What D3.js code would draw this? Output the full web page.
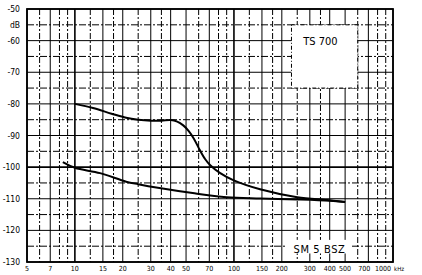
<!DOCTYPE html>
<html>
<head>
<meta charset="utf-8">
<script src="https://cdn.jsdelivr.net/npm/d3@7"></script>
<style>
  body { margin: 0; background: #fff; }
  text { font-family: "DejaVu Sans Condensed", "Liberation Sans Narrow", Arial, sans-serif; fill: #000; }
</style>
</head>
<body>
<svg id="chart" width="422" height="275"></svg>
<script>
// values
var xLabels = [5, 7, 10, 15, 20, 30, 40, 50, 70, 100, 150, 200, 300, 400, 500, 700, 1000]
var xMinor = [6, 8, 9, 12.5, 17.5, 25, 35, 60, 80, 90, 125, 175, 250, 350, 600, 800, 900]
var yLabels = [-50, -60, -70, -80, -90, -100, -110, -120, -130]
var yMinor = [-55, -65, -75, -85, -95, -105, -115, -125]

var freqTS = [10, 13, 17, 21, 25, 30, 35, 40, 44, 48, 52, 56, 61, 66, 71, 82, 99, 146, 250, 386, 500]
var dbTS = [-80, -81.3, -83.1, -84.4, -85.0, -85.3, -85.3, -85.1, -85.6, -86.8, -88.6, -91.0, -94.6, -97.5, -99.4, -101.9, -104.1, -107, -109.5, -110.4, -111]

var freqSM = [8.4, 10, 14.4, 21, 25, 34, 55, 90, 146, 250, 400, 500]
var dbSM = [-98.4, -100.2, -101.9, -104.6, -105.4, -106.6, -108.2, -109.5, -109.9, -110.2, -110.6, -111]

var svg = d3.select("#chart")
var plotL = 27, plotT = 9, plotR = 393, plotB = 262

var x = d3.scaleLog().domain([5, 1000]).range([plotL, plotR])
var y = d3.scaleLinear().domain([-130, -50]).range([plotB, plotT])

var grid = svg.append("g").attr("stroke", "#000").attr("fill", "none")

// horizontal grid
grid.selectAll(".hmaj").data(yLabels).enter().append("line")
    .attr("x1", plotL).attr("x2", plotR)
    .attr("y1", y).attr("y2", y)
    .attr("stroke-width", function(d) { return d == -100 ? 1.8 : 1 })
grid.selectAll(".hmin").data(yMinor).enter().append("line")
    .attr("x1", plotL).attr("x2", plotR)
    .attr("y1", y).attr("y2", y)
    .attr("stroke-dasharray", "7,2,2,2")

// vertical grid
grid.selectAll(".vmaj").data(xLabels).enter().append("line")
    .attr("x1", x).attr("x2", x)
    .attr("y1", plotT).attr("y2", plotB)
    .attr("stroke-width", function(d) { return (d == 10 || d == 100) ? 1.6 : 1 })
grid.selectAll(".vmin").data(xMinor).enter().append("line")
    .attr("x1", x).attr("x2", x)
    .attr("y1", plotT).attr("y2", plotB)
    .attr("stroke-dasharray", "6,2,2,2")

// label boxes (white patches in the original print)
var tsBox = { f0: 230, f1: 600, d0: -55, d1: -75 }
svg.append("rect")
    .attr("x", x(tsBox.f0)).attr("width", x(tsBox.f1) - x(tsBox.f0))
    .attr("y", y(tsBox.d0)).attr("height", y(tsBox.d1) - y(tsBox.d0))
    .attr("fill", "#fff").attr("stroke", "#000").attr("stroke-dasharray", "4,2,1,2")
svg.append("text")
    .attr("x", x(350)).attr("y", y(-61.4))
    .attr("text-anchor", "middle").attr("font-size", 11)
    .text("TS 700")

var smBox = { f0: 215, f1: 545, d0: -123, d1: -127.3 }
svg.append("rect")
    .attr("x", x(smBox.f0)).attr("width", x(smBox.f1) - x(smBox.f0))
    .attr("y", y(smBox.d0)).attr("height", y(smBox.d1) - y(smBox.d0))
    .attr("fill", "#fff")
svg.append("text")
    .attr("x", x(345)).attr("y", y(-127.2))
    .attr("text-anchor", "middle").attr("font-size", 11)
    .attr("letter-spacing", 0.6)
    .text("SM 5 BSZ")

// frame
svg.append("rect")
    .attr("x", plotL).attr("y", plotT)
    .attr("width", plotR - plotL).attr("height", plotB - plotT)
    .attr("fill", "none").attr("stroke", "#000").attr("stroke-width", 1.8)

// curves
var line = d3.line()
    .x(function(d) { return x(d[0]) })
    .y(function(d) { return y(d[1]) })
    .curve(d3.curveCatmullRom.alpha(0.5))

svg.append("path")
    .datum(d3.zip(freqTS, dbTS))
    .attr("d", line)
    .attr("fill", "none").attr("stroke", "#000").attr("stroke-width", 2)
svg.append("path")
    .datum(d3.zip(freqSM, dbSM))
    .attr("d", line)
    .attr("fill", "none").attr("stroke", "#000").attr("stroke-width", 2)

// y tick labels
svg.selectAll(".ylab").data(yLabels).enter().append("text")
    .attr("x", 20).attr("y", function(d) { return y(d) + 3 })
    .attr("text-anchor", "end").attr("font-size", 8.5)
    .text(function(d) { return "-" + Math.abs(d) })
svg.append("text")
    .attr("x", 20).attr("y", y(-55) + 3)
    .attr("text-anchor", "end").attr("font-size", 8.5)
    .text("dB")

// x tick labels
svg.selectAll(".xlab").data(xLabels.slice(0, -1)).enter().append("text")
    .attr("x", function(d) { return d == 700 ? x(d) - 4 : x(d) })
    .attr("y", 271)
    .attr("text-anchor", "middle").attr("font-size", 7)
    .text(function(d) { return d })
svg.append("text")
    .attr("x", x(1000) - 2).attr("y", 271)
    .attr("text-anchor", "end").attr("font-size", 7)
    .text("1000")
svg.append("text")
    .attr("x", x(1000) + 1).attr("y", 271)
    .attr("font-size", 6)
    .text("kHz")
</script>
</body>
</html>
